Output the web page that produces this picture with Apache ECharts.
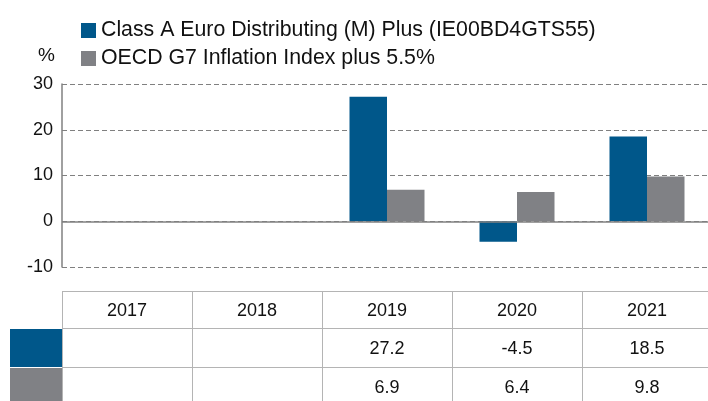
<!DOCTYPE html>
<html>
<head>
<meta charset="utf-8">
<script src="https://cdn.jsdelivr.net/npm/echarts@6/dist/echarts.min.js"></script>
<style>
  html, body { margin: 0; padding: 0; background: #fff; overflow: hidden; }
  #container { width: 712px; height: 401px; }
</style>
</head>
<body>
<div id="container"></div>
<script>
var years = ['2017', '2018', '2019', '2020', '2021'];
var fundName = 'Class A Euro Distributing (M) Plus (IE00BD4GTS55)';
var benchName = 'OECD G7 Inflation Index plus 5.5%';
var fundValues = [null, null, 27.2, -4.5, 18.5];
var benchValues = [null, null, 6.9, 6.4, 9.8];
var yTicks = [-10, 0, 10, 20, 30];

var blue = '#00578a';
var grey = '#808185';
var lineGrey = '#b4b4b4';
var font = 'Liberation Sans, Arial, sans-serif';

var dom = document.getElementById('container');
var myChart = echarts.init(dom);

var option = {
    animation: false,
    textStyle: { fontFamily: font },
    legend: {
        orient: 'vertical',
        left: 76,
        top: 15,
        itemWidth: 15,
        itemHeight: 15,
        itemGap: 7,
        icon: 'rect',
        textStyle: { fontSize: 21.3, color: '#111', fontFamily: font },
        data: [fundName, benchName]
    },
    // plot runs a little past the right edge of the window, as in the original
    grid: { left: 62, top: 84, right: 0, height: 183 },
    xAxis: {
        type: 'category',
        data: years,
        axisLine: { show: false },
        axisTick: { show: false },
        axisLabel: { show: false }
    },
    yAxis: {
        type: 'value',
        min: yTicks[0],
        max: yTicks[yTicks.length - 1],
        interval: 10,
        name: '%',
        nameGap: 19,
        nameTextStyle: { fontSize: 19, color: '#111', align: 'right', padding: [0, 7, 0, 0], fontFamily: font },
        axisLine: { show: true, onZero: false, lineStyle: { color: '#808080', width: 1.5 } },
        axisTick: { show: false },
        axisLabel: { fontSize: 18, color: '#111', margin: 9, fontFamily: font },
        splitLine: { show: true, lineStyle: { color: '#808080', type: [5, 3], width: 1.2 } }
    },
    series: [
        {
            name: fundName,
            type: 'bar',
            data: fundValues,
            barWidth: 37.5,
            barGap: '0%',
            itemStyle: { color: blue },
            markLine: {
                silent: true,
                symbol: 'none',
                label: { show: false },
                lineStyle: { color: '#808080', type: 'solid', width: 1.5 },
                data: [{ yAxis: 0 }]
            }
        },
        {
            name: benchName,
            type: 'bar',
            data: benchValues,
            barWidth: 37.5,
            barGap: '0%',
            itemStyle: { color: grey }
        }
    ]
};

myChart.setOption(option);

// table below the plot, placed from the category axis
function buildTable() {
    var g = [];
    var tableTop = 291, row1 = 328, row2 = 367, tableBottom = 401;
    var left = 62, right = 712;
    var step = (myChart.convertToPixel({ xAxisIndex: 0 }, years[1]) - myChart.convertToPixel({ xAxisIndex: 0 }, years[0]));
    var lineStyle = { stroke: lineGrey, lineWidth: 1 };
    var cellFont = '18px ' + font;

    [tableTop, row1, row2].forEach(function (y) {
        g.push({ type: 'line', shape: { x1: left, y1: y + 0.5, x2: right, y2: y + 0.5 }, style: lineStyle, silent: true });
    });

    for (var i = 0; i < years.length; i++) {
        var cx = myChart.convertToPixel({ xAxisIndex: 0 }, years[i]);
        var xl = Math.round(cx - step / 2) + 0.5;
        g.push({ type: 'line', shape: { x1: xl, y1: tableTop, x2: xl, y2: tableBottom }, style: lineStyle, silent: true });
        g.push({ type: 'text', x: cx, y: 311,
            style: { text: years[i], fill: '#111', font: cellFont, align: 'center', verticalAlign: 'middle' } });
        if (fundValues[i] != null) {
            g.push({ type: 'text', x: cx, y: 349,
                style: { text: fundValues[i].toFixed(1), fill: '#111', font: cellFont, align: 'center', verticalAlign: 'middle' } });
        }
        if (benchValues[i] != null) {
            g.push({ type: 'text', x: cx, y: 388,
                style: { text: benchValues[i].toFixed(1), fill: '#111', font: cellFont, align: 'center', verticalAlign: 'middle' } });
        }
    }

    g.push({ type: 'rect', shape: { x: 10, y: row1 + 1, width: left - 10, height: row2 - row1 - 1 }, style: { fill: blue }, silent: true });
    g.push({ type: 'rect', shape: { x: 10, y: row2 + 1, width: left - 10, height: tableBottom - row2 }, style: { fill: grey }, silent: true });

    myChart.setOption({ graphic: { elements: g } });
}

buildTable();
</script>
</body>
</html>
